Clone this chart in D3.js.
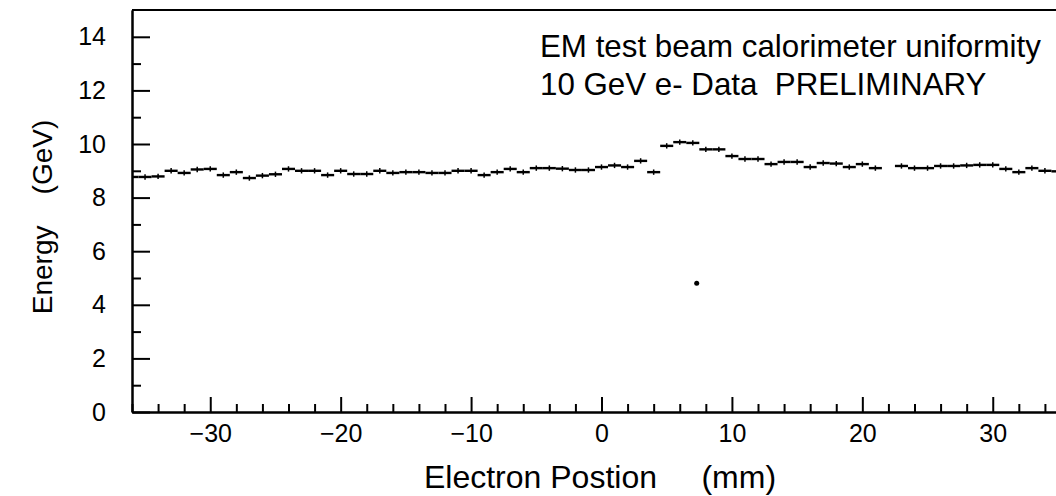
<!DOCTYPE html>
<html lang="en">
<head>
<meta charset="UTF-8">
<title>EM test beam calorimeter uniformity</title>
<script src="https://d3js.org/d3.v7.min.js"></script>
<style>
  body { margin: 0; background: #fff; }
  svg { display: block; font-family: "Liberation Sans", Arial, sans-serif; }
  .axis path, .axis line { stroke: #000; stroke-width: 2; }
  .axis text { font-size: 25px; fill: #000; font-family: "Liberation Sans", Arial, sans-serif; }
  .bin { stroke: #000; stroke-width: 2.4; }
  .err { stroke: #000; stroke-width: 1.5; }
</style>
</head>
<body>
<svg id="chart" width="1056" height="496"></svg>
<script>
// bin centres (mm), 1 mm wide bins; bin at 22 mm is empty
const positions = [-36, -35, -34, -33, -32, -31, -30, -29, -28, -27, -26, -25, -24, -23, -22, -21,
  -20, -19, -18, -17, -16, -15, -14, -13, -12, -11, -10, -9, -8, -7, -6, -5, -4, -3, -2, -1,
  0, 1, 2, 3, 4, 5, 6, 7, 8, 9, 10, 11, 12, 13, 14, 15, 16, 17, 18, 19, 20, 21,
  23, 24, 25, 26, 27, 28, 29, 30, 31, 32, 33, 34, 35];
const energies = [8.77, 8.77, 8.79, 9.00, 8.92, 9.05, 9.07, 8.84, 8.95, 8.73, 8.82, 8.87, 9.07, 9.00, 9.00, 8.84,
  9.00, 8.88, 8.88, 9.00, 8.92, 8.95, 8.95, 8.92, 8.92, 9.00, 9.00, 8.84, 8.95, 9.07, 8.95, 9.10, 9.10, 9.08, 9.03, 9.03,
  9.14, 9.20, 9.14, 9.37, 8.95, 9.93, 10.07, 10.04, 9.80, 9.80, 9.55, 9.44, 9.44, 9.25, 9.33, 9.33, 9.14, 9.29, 9.27, 9.14, 9.25, 9.10,
  9.18, 9.10, 9.10, 9.18, 9.18, 9.20, 9.22, 9.22, 9.07, 8.95, 9.10, 9.00, 8.98];
const binWidth = 1;
const errSize = 0.1;

// isolated point below the band
const strayX = [7.3];
const strayY = [4.8];

const xMajorTicks = [-30, -20, -10, 0, 10, 20, 30];
const xMinorTicks = d3.range(-36, 37, 2).filter(v => v % 10 !== 0);
const yMajorTicks = [0, 2, 4, 6, 8, 10, 12, 14];
const yMinorTicks = [1, 3, 5, 7, 9, 11, 13];

const svg = d3.select("#chart");
const mLeft = 132, mRight = 1071, mTop = 10, mBottom = 412;

const x = d3.scaleLinear().domain([-36, 36]).range([mLeft, mRight]);
const y = d3.scaleLinear().domain([0, 15]).range([mBottom, mTop]);

svg.append("defs").append("clipPath").attr("id", "plot")
  .append("rect").attr("x", mLeft).attr("y", mTop).attr("width", mRight - mLeft).attr("height", mBottom - mTop);

// axes (ticks pointing inward)
svg.append("g").attr("class", "axis").attr("transform", `translate(0,${mBottom})`)
  .call(d3.axisBottom(x).tickValues(xMajorTicks).tickSize(-15).tickSizeOuter(0).tickPadding(12));
svg.append("g").attr("class", "axis").attr("transform", `translate(0,${mBottom})`)
  .call(d3.axisBottom(x).tickValues(xMinorTicks).tickSize(-8).tickSizeOuter(0).tickFormat(""));
svg.append("g").attr("class", "axis").attr("transform", `translate(${mLeft},0)`)
  .call(d3.axisLeft(y).tickValues(yMajorTicks).tickSize(-18).tickSizeOuter(0).tickPadding(26));
svg.append("g").attr("class", "axis").attr("transform", `translate(${mLeft},0)`)
  .call(d3.axisLeft(y).tickValues(yMinorTicks).tickSize(-9).tickSizeOuter(0).tickFormat(""));

// top frame
svg.append("line").attr("x1", mLeft).attr("x2", mRight).attr("y1", mTop).attr("y2", mTop)
  .attr("stroke", "#000").attr("stroke-width", 2);

const bins = positions.map((p, i) => ({ x: p, e: energies[i] }));
const g = svg.append("g").attr("clip-path", "url(#plot)");

g.selectAll("line.bin").data(bins).enter().append("line")
  .attr("class", "bin")
  .attr("x1", d => x(d.x - binWidth / 2))
  .attr("x2", d => x(d.x + binWidth / 2))
  .attr("y1", d => y(d.e))
  .attr("y2", d => y(d.e));

g.selectAll("line.err").data(bins).enter().append("line")
  .attr("class", "err")
  .attr("x1", d => x(d.x)).attr("x2", d => x(d.x))
  .attr("y1", d => y(d.e - errSize))
  .attr("y2", d => y(d.e + errSize));

g.selectAll("circle").data(strayX).enter().append("circle")
  .attr("cx", d => x(d))
  .attr("cy", (d, i) => y(strayY[i]))
  .attr("r", 2.5)
  .attr("fill", "#000");

// labels
svg.append("text").attr("x", 540).attr("y", 57)
  .attr("font-size", 31.3).text("EM test beam calorimeter uniformity");
svg.append("text").attr("x", 540).attr("y", 95)
  .attr("font-size", 31.3).style("white-space", "pre").text("10 GeV e- Data  PRELIMINARY");

svg.append("text")
  .attr("transform", "translate(52,217) rotate(-90)")
  .attr("text-anchor", "middle").attr("font-size", 28)
  .style("white-space", "pre").text("Energy    (GeV)");

svg.append("text").attr("x", 600).attr("y", 488)
  .attr("text-anchor", "middle").attr("font-size", 32)
  .style("white-space", "pre").text("Electron Postion     (mm)");
</script>
</body>
</html>
